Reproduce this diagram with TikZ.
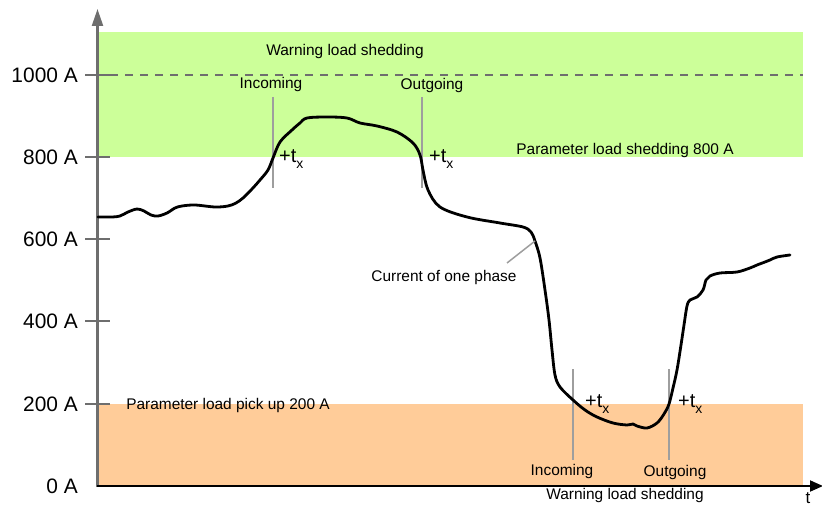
\documentclass[tikz,border=0pt]{standalone}
\usepackage{fontspec}
\setmainfont{Liberation Sans}
\usetikzlibrary{arrows.meta}
\definecolor{bandgreen}{HTML}{CCFF99}
\definecolor{bandorange}{HTML}{FFCC99}
\definecolor{axisgray}{HTML}{6E6E6E}
\definecolor{markgray}{HTML}{9E9E9E}
\tikzset{
  axislbl/.style={anchor=east, inner sep=0pt, font=\fontsize{21}{25}\selectfont},
  smalltxt/.style={inner sep=0pt, font=\fontsize{15.5}{18}\selectfont},
  tick/.style={draw=axisgray, line width=1.3bp},
  marker/.style={draw=markgray, line width=1.8bp},
  tlabel/.style={anchor=west, inner sep=0pt, font=\fontsize{20}{22}\selectfont},
}
\newcommand{\tplus}{+t\raisebox{-0.6ex}{\fontsize{14}{14}\selectfont x}}
\begin{document}
\begin{tikzpicture}[x=1bp,y=-1bp]
\useasboundingbox (0,0) rectangle (822,506);
% bands
\fill[bandgreen] (98,32) rectangle (803,157);
\fill[bandorange] (98,404) rectangle (803,486);
% dashed level
\coordinate (d1) at (110,75);
\coordinate (d2) at (803,75);
\draw[axisgray, line width=1.8bp, dash pattern=on 8bp off 7bp] (d1) -- (d2);
% ticks
\foreach \yy/\nm in {75/1000, 157/800, 239/600, 321/400, 404/200}{
  \coordinate (tl\nm) at (85,\yy);
  \coordinate (tr\nm) at (110,\yy);
  \draw[tick] (tl\nm) -- (tr\nm);
  \node[axislbl] (lab\nm) at (78,\yy) {\nm\ A};
}
\node[axislbl] (lab0) at (78,486) {0 A};
% axes
\coordinate (o) at (97.5,487);
\coordinate (ytop) at (97.5,9);
\coordinate (xend) at (823,486);
\draw[axisgray, line width=2.2bp, -{Triangle[length=17bp,width=11bp]}] (o) -- (ytop);
\draw[black, line width=1.8bp, -{Triangle[length=13bp,width=11bp]}] (96.5,486) -- (xend);
\node[inner sep=0pt, font=\fontsize{17}{20}\selectfont] (tlab) at (808,498) {t};
% markers
\coordinate (m1a) at (273,97);  \coordinate (m1b) at (273,188);
\coordinate (m2a) at (422,97);  \coordinate (m2b) at (422,188);
\coordinate (m3a) at (573,369); \coordinate (m3b) at (573,460);
\coordinate (m4a) at (669,369); \coordinate (m4b) at (669,460);
\draw[marker] (m1a) -- (m1b);
\draw[marker] (m2a) -- (m2b);
\draw[marker] (m3a) -- (m3b);
\draw[marker] (m4a) -- (m4b);
% curve
\draw[black, line width=2.8bp, line join=round, line cap=round] plot[smooth, tension=0.55] coordinates {
(98,217) (112,217) (120,216) (128,212) (137,209) (144,211) (151,215) (158,216) (167,213) (175,208) (182,206) (195,205) (215,207) (228,206) (236,203) (243,198) (252,189) (260,180) (268,170) (273,158) (280,142) (292,130) (300,123) (307,118) (327,117) (347,118) (360,123) (377,126) (397,132) (413,143) (420,155) (423,170) (428,190) (440,207) (467,217) (500,223) (523,227) (531,232) (535,241) (540,258) (545,290) (549,320) (552,350) (555,375) (560,387) (573,400) (585,410) (597,417) (613,423) (627,425) (633,424) (637,426) (647,428) (657,423) (664,414) (669,404) (673,388) (677,370) (681,345) (684,325) (687,306) (690,300) (697,297) (703,290) (706,280) (710,276) (720,273) (737,272) (750,268) (757,265) (765,262) (770,260) (777,257) (790,255)};
% pointer
\coordinate (cp) at (535,241);
\node[smalltxt] (cur) at (444,278) {Current of one phase};
\draw[markgray, line width=1.5bp] (507,263) -- (cp);
% texts
\node[smalltxt] (wls1) at (345,52) {Warning load shedding};
\node[smalltxt] (pls) at (625,151) {Parameter load shedding 800 A};
\node[smalltxt] (plp) at (228,406) {Parameter load pick up 200 A};
\node[smalltxt] (in1) at (271,85) {Incoming};
\node[smalltxt] (out1) at (432,86) {Outgoing};
\node[smalltxt] (in2) at (562,472) {Incoming};
\node[smalltxt] (out2) at (675,473) {Outgoing};
\node[smalltxt] (wls2) at (625,496) {Warning load shedding};
\node[tlabel] (tx1) at (279,159) {\tplus};
\node[tlabel] (tx2) at (429,159) {\tplus};
\node[tlabel] (tx3) at (585,404) {\tplus};
\node[tlabel] (tx4) at (678,404) {\tplus};
\end{tikzpicture}
\end{document}
